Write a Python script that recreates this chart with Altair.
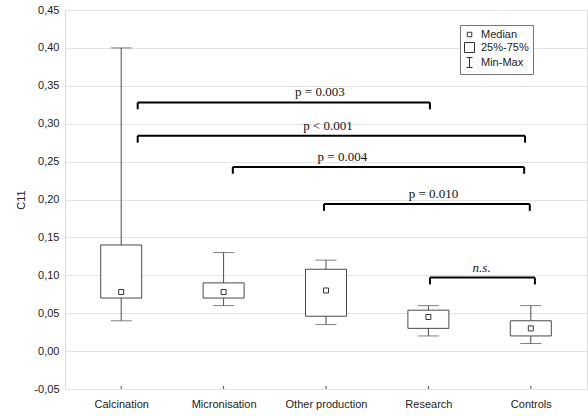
import altair as alt
import pandas as pd

categories = ["Calcination", "Micronisation", "Other production", "Research", "Controls"]
mins = [0.04, 0.06, 0.035, 0.02, 0.01]
q1 = [0.07, 0.07, 0.046, 0.03, 0.02]
medians = [0.078, 0.078, 0.08, 0.045, 0.03]
q3 = [0.14, 0.09, 0.108, 0.054, 0.04]
maxs = [0.40, 0.13, 0.12, 0.06, 0.06]

bracket_labels = ["p = 0.003", "p < 0.001", "p = 0.004", "p = 0.010", "n.s."]
bracket_start = [0.661, 0.661, 1.59, 2.48, 3.515]
bracket_end = [3.515, 4.444, 4.435, 4.49, 4.54]
bracket_y = [0.328, 0.284, 0.243, 0.194, 0.097]
bracket_label_x = [2.44, 2.52, 2.66, 3.55, 4.02]
bracket_italic = [False, False, False, False, True]

y_ticks = [-0.05, 0.0, 0.05, 0.10, 0.15, 0.20, 0.25, 0.30, 0.35, 0.40, 0.45]
legend_keys = ["Median", "25%-75%", "Min-Max"]

box_df = pd.DataFrame({
    "cat": categories,
    "pos": [i + 0.5 for i in range(len(categories))],
    "min": mins, "q1": q1, "median": medians, "q3": q3, "max": maxs,
})
br_df = pd.DataFrame({
    "label": bracket_labels, "x1": bracket_start, "x2": bracket_end,
    "y": bracket_y, "lx": bracket_label_x, "italic": bracket_italic,
})
leg_df = pd.DataFrame({"key": legend_keys})

GRAY = "#4a4a4a"
label_arr = "[" + ",".join("'" + c + "'" for c in categories) + "]"

x_enc = alt.X("pos:Q",
              scale=alt.Scale(domain=[0, len(categories)], nice=False, zero=False),
              axis=alt.Axis(values=[i + 0.5 for i in range(len(categories))],
                            tickCount=20,
                            labelExpr=label_arr + "[floor(datum.value)]",
                            grid=False, ticks=False, domain=False, title=None,
                            labelFont="Liberation Sans", labelFontSize=11,
                            labelColor="#222222", labelPadding=9))
y_enc = alt.Y("min:Q",
              scale=alt.Scale(domain=[-0.05, 0.45], nice=False, zero=False),
              axis=alt.Axis(values=y_ticks, tickCount=40,
                            labelExpr="replace(replace(format(datum.value, '.2f'), '.', ','), '\u2212', '-')",
                            labelOverlap=False,
                            grid=True, gridColor="#e4e4e4", domain=False, ticks=False,
                            labelFont="Liberation Sans", labelFontSize=11,
                            labelColor="#222222", labelPadding=6,
                            title="C11", titleFont="Liberation Sans", titleFontSize=11,
                            titleFontWeight="normal", titleColor="#222222",
                            titleX=-44, titleY=189.5, titleAlign="center",
                            titleBaseline="middle", titleAngle=-90))

base = alt.Chart(box_df)

whisk = base.mark_rule(color=GRAY, strokeWidth=1).encode(x=x_enc, y=y_enc, y2="max:Q")
caps = base.transform_fold(["min", "max"], as_=["k", "v"]).mark_tick(
    orient="horizontal", size=21, thickness=1, color=GRAY
).encode(x="pos:Q", y="v:Q")
box = base.mark_bar(size=41, fill="white", stroke=GRAY, strokeWidth=1).encode(
    x="pos:Q", y="q1:Q", y2="q3:Q")
med = base.mark_point(shape="square", size=25, fill="white", stroke="#333333",
                      strokeWidth=1, opacity=1).encode(x="pos:Q", y="median:Q")
xticks = base.transform_calculate(lo="-0.05", hi="-0.046").mark_rule(
    color=GRAY).encode(x="pos:Q", y="lo:Q", y2="hi:Q")

bb = alt.Chart(br_df)
hline = bb.mark_rule(color="black", strokeWidth=2).encode(x="x1:Q", x2="x2:Q", y="y:Q")
vlines = bb.transform_fold(["x1", "x2"], as_=["k", "xv"]).transform_calculate(
    ylo="datum.y - 0.009").mark_rule(color="black", strokeWidth=2).encode(
    x="xv:Q", y="y:Q", y2="ylo:Q")
txt = bb.transform_filter("!datum.italic").mark_text(
    font="Liberation Serif", fontSize=13, dy=-10, color="#111111").encode(
    x="lx:Q", y="y:Q", text="label:N")
txt_it = bb.transform_filter("datum.italic").mark_text(
    font="Liberation Serif", fontSize=13, dy=-10, fontStyle="italic", color="#111111").encode(
    x="lx:Q", y="y:Q", text="label:N")

legend_layer = alt.Chart(leg_df).mark_point(filled=False, color="#333333").encode(
    x=alt.value(0), y=alt.value(0), opacity=alt.value(0),
    shape=alt.Shape("key:N",
                    scale=alt.Scale(domain=legend_keys,
                                    range=["M-0.45,-0.45H0.45V0.45H-0.45Z",
                                           "M-1,-1H1V1H-1Z",
                                           "M-0.6,-1H0.6M0,-1V1M-0.6,1H0.6"]),
                    legend=alt.Legend(title=None, orient="none", legendX=395, legendY=15,
                                      padding=4, strokeColor="#777777", fillColor="white",
                                      labelFont="Liberation Sans", labelFontSize=11,
                                      labelColor="#222222", symbolSize=100,
                                      symbolOpacity=1, symbolStrokeColor="#333333",
                                      symbolStrokeWidth=1, symbolFillColor="white",
                                      rowPadding=0, labelOffset=6)))

chart = alt.layer(whisk, caps, box, med, xticks, hline, vlines, txt, txt_it, legend_layer).properties(
    width=522, height=379,
    autosize=alt.AutoSizeParams(type="none"),
    padding={"left": 65, "top": 10, "right": 1, "bottom": 27},
).configure_view(stroke="#777777", strokeWidth=1).configure_axis(
    labelOverlap=False
).configure(background="white")

chart.save("out.html", embed_options={"renderer": "svg", "actions": False})
